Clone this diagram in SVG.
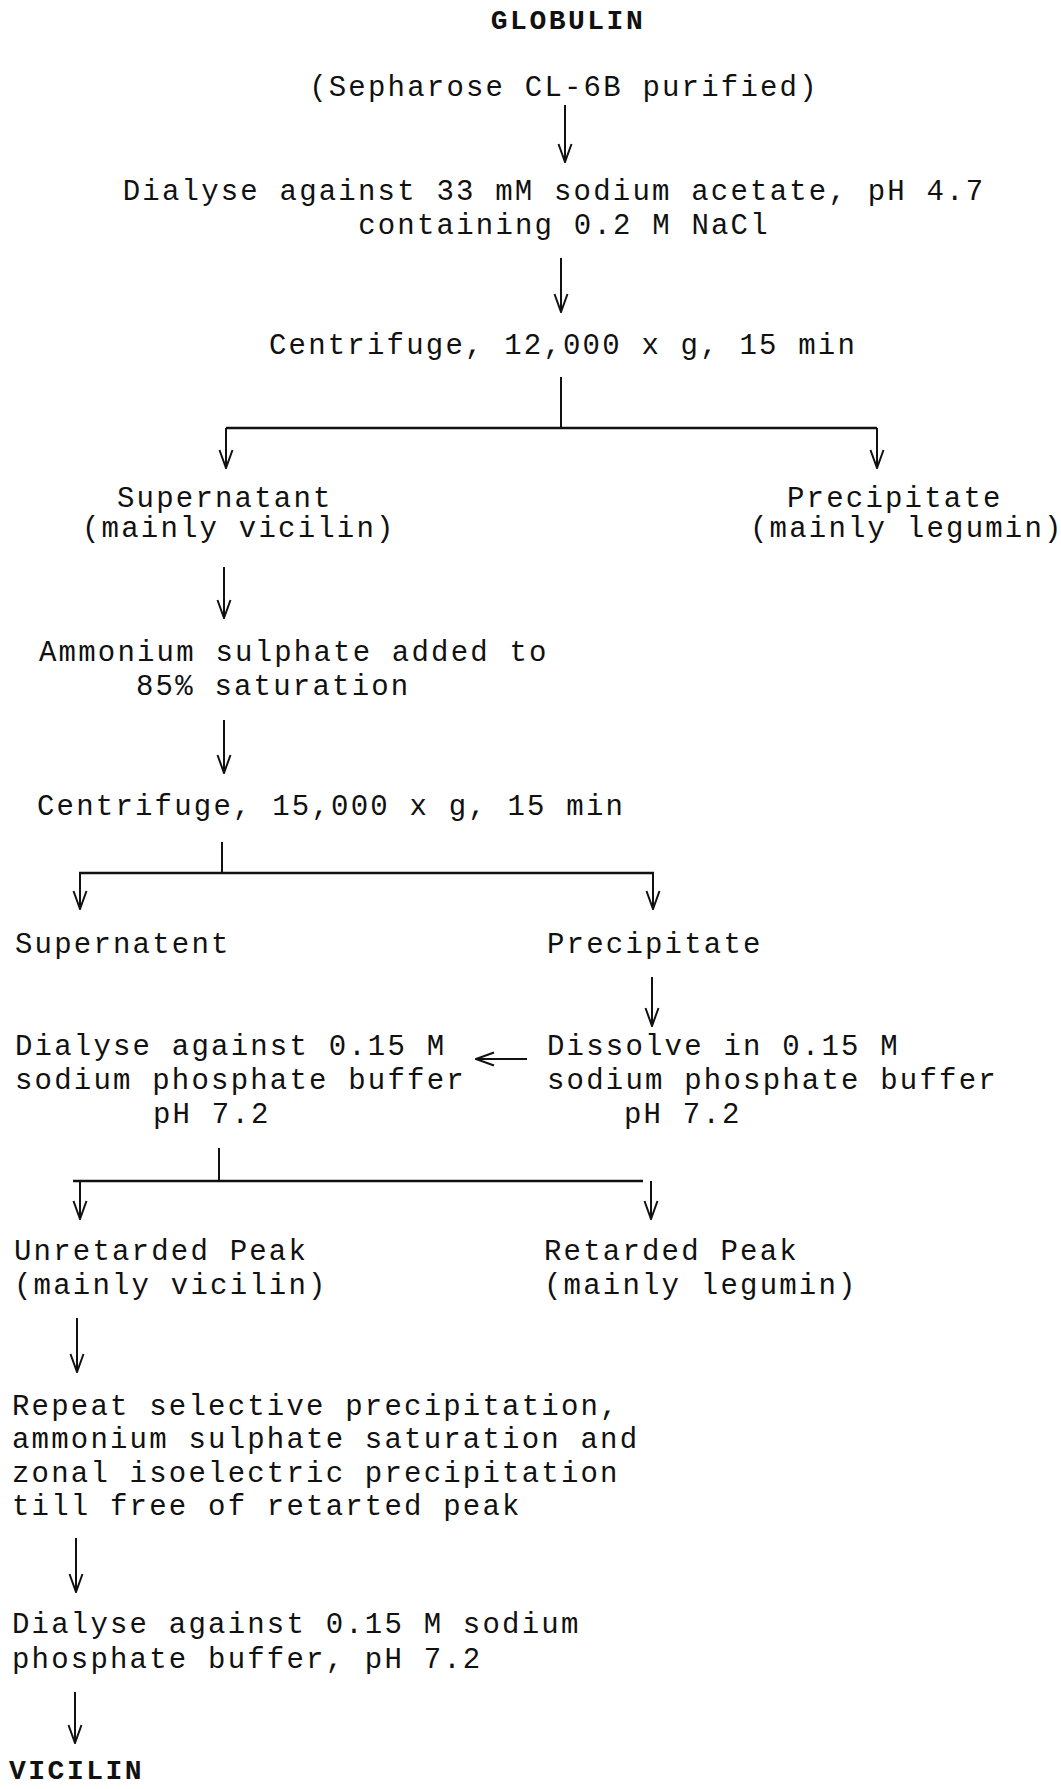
<svg xmlns="http://www.w3.org/2000/svg" width="1061" height="1789" viewBox="0 0 1061 1789">
<style>
.t{font-family:"Liberation Mono","DejaVu Sans Mono",monospace;font-size:29px;letter-spacing:2.2px;fill:#111}
.b{font-family:"Liberation Mono","DejaVu Sans Mono",monospace;font-size:28px;font-weight:bold;letter-spacing:2.5px;fill:#111}
.c{text-anchor:middle}
.ln{stroke:#111;stroke-width:2;fill:none}
.hl{stroke:#111;stroke-width:2.6;fill:none}
</style>
<defs>
<marker id="ah" viewBox="0 0 20 20" markerWidth="20" markerHeight="20" refX="19" refY="10" orient="auto" markerUnits="userSpaceOnUse">
<path d="M1,3.5 L19,10 L1,16.5" fill="none" stroke="#111" stroke-width="2"/>
</marker>
</defs>
<rect width="1061" height="1789" fill="#fff"/>
<g id="connectors">
<line class="ln" x1="565" y1="105" x2="565" y2="162" marker-end="url(#ah)"/>
<line class="ln" x1="561" y1="258" x2="561" y2="312" marker-end="url(#ah)"/>
<line class="ln" x1="561" y1="377" x2="561" y2="428"/>
<line class="hl" x1="226" y1="428" x2="877" y2="428"/>
<line class="ln" x1="226" y1="428" x2="226" y2="468" marker-end="url(#ah)"/>
<line class="ln" x1="877" y1="428" x2="877" y2="468" marker-end="url(#ah)"/>
<line class="ln" x1="224" y1="567" x2="224" y2="618" marker-end="url(#ah)"/>
<line class="ln" x1="224" y1="720" x2="224" y2="773" marker-end="url(#ah)"/>
<line class="ln" x1="222" y1="842" x2="222" y2="873"/>
<line class="hl" x1="79" y1="873" x2="654" y2="873"/>
<line class="ln" x1="80" y1="873" x2="80" y2="909" marker-end="url(#ah)"/>
<line class="ln" x1="653" y1="873" x2="653" y2="909" marker-end="url(#ah)"/>
<line class="ln" x1="652" y1="977" x2="652" y2="1026" marker-end="url(#ah)"/>
<line class="ln" x1="527" y1="1059" x2="476" y2="1059" marker-end="url(#ah)"/>
<line class="ln" x1="219" y1="1148" x2="219" y2="1181"/>
<line class="hl" x1="73" y1="1181" x2="643" y2="1181"/>
<line class="ln" x1="80" y1="1181" x2="80" y2="1219" marker-end="url(#ah)"/>
<line class="ln" x1="651" y1="1181" x2="651" y2="1219" marker-end="url(#ah)"/>
<line class="ln" x1="77" y1="1318" x2="77" y2="1372" marker-end="url(#ah)"/>
<line class="ln" x1="76" y1="1538" x2="76" y2="1592" marker-end="url(#ah)"/>
<line class="ln" x1="75" y1="1692" x2="75" y2="1743" marker-end="url(#ah)"/>
</g>
<g id="globulin"><text class="b c" x="568" y="29">GLOBULIN</text></g>
<g id="sepharose"><text class="t c" x="564" y="96">(Sepharose CL-6B purified)</text></g>
<g id="dialyse1">
<text class="t c" x="554" y="200">Dialyse against 33 mM sodium acetate, pH 4.7</text>
<text class="t c" x="564" y="234">containing 0.2 M NaCl</text>
</g>
<g id="centrifuge1"><text class="t c" x="563" y="354">Centrifuge, 12,000 x g, 15 min</text></g>
<g id="supernatant1">
<text class="t" x="117" y="507">Supernatant</text>
<text class="t" x="82" y="537">(mainly vicilin)</text>
</g>
<g id="precipitate1">
<text class="t" x="787" y="507">Precipitate</text>
<text class="t" x="750" y="537">(mainly legumin)</text>
</g>
<g id="ammonium">
<text class="t" x="39" y="661">Ammonium sulphate added to</text>
<text class="t" x="136" y="695">85% saturation</text>
</g>
<g id="centrifuge2"><text class="t" x="37" y="815">Centrifuge, 15,000 x g, 15 min</text></g>
<g id="supernatent2"><text class="t" x="15" y="953">Supernatent</text></g>
<g id="precipitate2"><text class="t" x="547" y="953">Precipitate</text></g>
<g id="dialyse2">
<text class="t" x="15" y="1055">Dialyse against 0.15 M</text>
<text class="t" x="15" y="1089">sodium phosphate buffer</text>
<text class="t" x="153" y="1123">pH 7.2</text>
</g>
<g id="dissolve">
<text class="t" x="547" y="1055">Dissolve in 0.15 M</text>
<text class="t" x="547" y="1089">sodium phosphate buffer</text>
<text class="t" x="624" y="1123">pH 7.2</text>
</g>
<g id="unretarded">
<text class="t" x="14" y="1260">Unretarded Peak</text>
<text class="t" x="14" y="1294">(mainly vicilin)</text>
</g>
<g id="retarded">
<text class="t" x="544" y="1260">Retarded Peak</text>
<text class="t" x="544" y="1294">(mainly legumin)</text>
</g>
<g id="repeat">
<text class="t" x="12" y="1415">Repeat selective precipitation,</text>
<text class="t" x="12" y="1448">ammonium sulphate saturation and</text>
<text class="t" x="12" y="1482">zonal isoelectric precipitation</text>
<text class="t" x="12" y="1515">till free of retarted peak</text>
</g>
<g id="dialyse3">
<text class="t" x="12" y="1633">Dialyse against 0.15 M sodium</text>
<text class="t" x="12" y="1668">phosphate buffer, pH 7.2</text>
</g>
<g id="vicilin"><text class="b" x="9" y="1779">VICILIN</text></g>
</svg>
